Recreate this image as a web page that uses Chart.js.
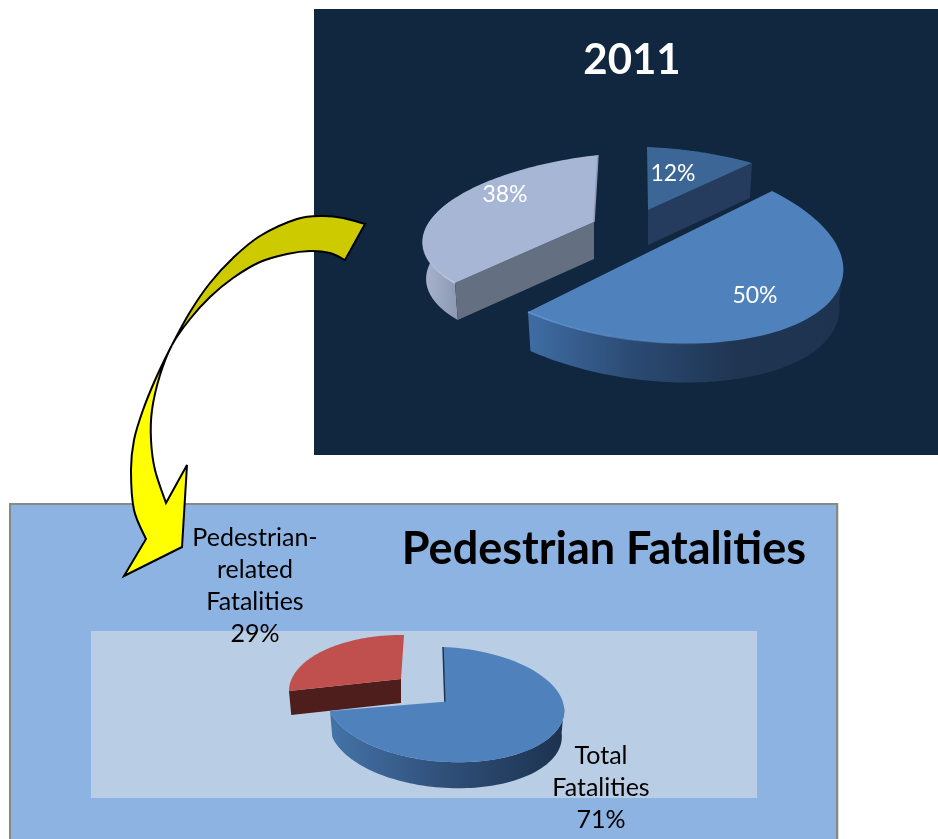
<!DOCTYPE html>
<html><head><meta charset="utf-8">
<script src="https://cdn.jsdelivr.net/npm/chart.js@4"></script>
<style>
html,body{margin:0;padding:0;background:#fff;width:938px;height:839px;overflow:hidden}
.abs{position:absolute;display:block}
#dark{left:314px;top:9px;width:624px;height:446px;background:#11263f}
#panel{left:9px;top:503px;width:829px;height:340px;background:#8db3e2;border:2px solid #888;box-sizing:border-box;box-shadow:1px 0 0 #ddd}
#plot{left:91px;top:631px;width:666px;height:167px;background:#b9cde5}
svg{left:0;top:0;pointer-events:none}
</style></head><body>
<div id="dark" class="abs"></div><div id="panel" class="abs"></div><div id="plot" class="abs"></div>
<canvas id="c1" class="abs" style="left:326px;top:9px" width="612" height="446"></canvas>
<canvas id="c2" class="abs" style="left:10px;top:503px" width="796" height="336"></canvas>
<svg id="arrow" class="abs" width="938" height="839"></svg>
<script>
// ---- data ----
const topTitle = '2011';
const topCategories = ['Share A', 'Share B', 'Share C'];
const topValues = [12, 50, 38];
const bottomTitle = 'Pedestrian Fatalities';
const bottomCategories = ['Total Fatalities', 'Pedestrian-related Fatalities'];
const bottomValues = [71, 29];
const bottomLabelLines = [['Total', 'Fatalities'], ['Pedestrian-', 'related', 'Fatalities']];

const FONT = 'Lato, Carlito, sans-serif';

// ---- look of each slice (page coordinates of the flattened, exploded pie) ----
const topLook = {
  offset: [326, 9], labelFont: '23px ' + FONT, labelColor: '#fff', lineStep: 32,
  slices: [
    { top: '#3b6696', depth: 35, anchors: [[null,648,210],[0,647,147],[0.5,700,152],[1,752,163]],
      cut: { end: true, color: '#253c5e' }, label: [673, 174] },
    { top: '#4f81bd', depth: 39, anchors: [[0,772,191],[0.26,843,264],[0.76,667,343],[1,528,312]],
      wall: { from: 0.26, to: 1, stops: ['#1e3350', '#1f3552', '#2b4a72', '#3f6da4'] },
      edge: { from: 0.66, to: 1, color: '#6394d2', fade: 'start' }, label: [755, 296] },
    { top: '#a7b6d4', depth: 37, anchors: [[null,594,222],[0,455,283],[0.342,425,230],[1,598,155]],
      cut: { start: true, color: '#646f82' },
      wall: { from: 0, to: 0.55, stops: ['#8f9bb4', '#a9b5ce'] },
      cutLine: { t: 1, color: '#8f9bb4' },
      edge: { from: 0, to: 0.42, color: '#bdc9e1', fade: 'end' }, label: [505, 195] }
  ], order: [2, 0, 1]
};
const bottomLook = {
  offset: [10, 503], labelFont: '25px ' + FONT, labelColor: '#000', lineStep: 32,
  slices: [
    { top: '#4f81bd', depth: 26, anchors: [[0,443,647],[0.352,564,707],[0.704,447,762],[1,330,711]],
      wall: { from: 0.352, to: 1, stops: ['#1c324e', '#2f4f78', '#4473a8'] },
      cutLine: { t: 0, color: '#1e3450' }, label: [601, 756] },
    { top: '#c0504d', depth: 24, anchors: [[null,401,679],[0,289,691],[0.5,327,649],[1,404,635]],
      cut: { start: true, color: '#4e1e1c' }, label: [255, 538] }
  ], order: [1, 0]
};
bottomLook.lines = bottomLabelLines;

// ---- projective map of the unit circle onto a slice ----
function solve(A, b) {
  const n = b.length, M = A.map((r, i) => [...r, b[i]]);
  for (let i = 0; i < n; i++) {
    let p = i;
    for (let r = i + 1; r < n; r++) if (Math.abs(M[r][i]) > Math.abs(M[p][i])) p = r;
    [M[i], M[p]] = [M[p], M[i]];
    for (let r = 0; r < n; r++) if (r !== i) {
      const f = M[r][i] / M[i][i];
      for (let c = i; c <= n; c++) M[r][c] -= f * M[i][c];
    }
  }
  return M.map((r, i) => r[n] / r[i]);
}
function projector(arc, anchors) {
  const a0 = arc.startAngle, a1 = arc.endAngle, A = [], b = [];
  anchors.forEach(([t, x, y]) => {
    let u = 0, v = 0;
    if (t !== null) { const a = a0 + (a1 - a0) * t; u = Math.cos(a); v = Math.sin(a); }
    A.push([u, v, 1, 0, 0, 0, -u * x, -v * x]); b.push(x);
    A.push([0, 0, 0, u, v, 1, -u * y, -v * y]); b.push(y);
  });
  const h = solve(A, b);
  return (u, v) => {
    const d = h[6] * u + h[7] * v + 1;
    return [(h[0] * u + h[1] * v + h[2]) / d, (h[3] * u + h[4] * v + h[5]) / d];
  };
}
const pie3d = {
  id: 'pie3d',
  beforeDatasetsDraw(chart, _a, look) {
    const ctx = chart.ctx, arcs = chart.getDatasetMeta(0).data;
    ctx.save();
    ctx.translate(-look.offset[0], -look.offset[1]);
    look.order.forEach(i => {
      const s = look.slices[i], arc = arcs[i].getProps(['startAngle', 'endAngle'], true);
      const map = projector(arc, s.anchors);
      const at = t => { const a = arc.startAngle + (arc.endAngle - arc.startAngle) * t; return map(Math.cos(a), Math.sin(a)); };
      const mid = map(0, 0)[0];
      const low = p => [p[0] - 0.02 * (p[0] - mid), p[1] + s.depth];
      const run = (from, to) => { const o = []; for (let k = 0; k <= 80; k++) o.push(at(from + (to - from) * k / 80)); return o; };
      const poly = (pts, fill) => {
        ctx.beginPath(); pts.forEach((p, k) => k ? ctx.lineTo(p[0], p[1]) : ctx.moveTo(p[0], p[1])); ctx.closePath();
        ctx.fillStyle = fill; ctx.fill();
      };
      if (s.wall) {
        const pts = run(s.wall.from, s.wall.to), xs = pts.map(p => p[0]);
        const g = ctx.createLinearGradient(Math.max(...xs), 0, Math.min(...xs), 0);
        s.wall.stops.forEach((c, k) => g.addColorStop(k / (s.wall.stops.length - 1), c));
        poly([...pts, ...pts.slice().reverse().map(low)], g);
      }
      const c = map(0, 0);
      if (s.cut) {
        const e = at(s.cut.start ? 0 : 1);
        poly([c, e, low(e), low(c)], s.cut.color);
      }
      poly([c, ...run(0, 1)], s.top);
      if (s.cutLine) {
        const e = at(s.cutLine.t); ctx.strokeStyle = s.cutLine.color; ctx.lineWidth = 1.5;
        ctx.beginPath(); ctx.moveTo(c[0], c[1]); ctx.lineTo(e[0], e[1]); ctx.stroke();
      }
      if (s.edge) {
        const pts = run(s.edge.from, s.edge.to), a = pts[0], z = pts[pts.length - 1];
        const g = ctx.createLinearGradient(a[0], a[1], z[0], z[1]);
        g.addColorStop(0, s.edge.fade === 'start' ? s.edge.color + '00' : s.edge.color);
        g.addColorStop(1, s.edge.fade === 'end' ? s.edge.color + '00' : s.edge.color);
        ctx.strokeStyle = g; ctx.lineWidth = 1.5; ctx.beginPath();
        pts.forEach((p, k) => k ? ctx.lineTo(p[0], p[1]) : ctx.moveTo(p[0], p[1]));
        ctx.stroke();
      }
    });
    ctx.restore();
    return false;
  },
  afterDraw(chart, _a, look) {
    const ctx = chart.ctx, ds = chart.data.datasets[0];
    ctx.save();
    ctx.translate(-look.offset[0], -look.offset[1]);
    ctx.font = look.labelFont; ctx.fillStyle = look.labelColor;
    ctx.textAlign = 'center'; ctx.textBaseline = 'middle';
    ds.data.forEach((v, i) => {
      const lines = [...((look.lines || [])[i] || []), v + '%'], [x, y] = look.slices[i].label;
      lines.forEach((t, k) => ctx.fillText(t, x, y + k * look.lineStep));
    });
    ctx.restore();
  }
};

function makePie(id, labels, data, title, font, pad, align, look) {
  new Chart(document.getElementById(id), {
    type: 'pie',
    data: { labels, datasets: [{ data, borderWidth: 0, backgroundColor: look.slices.map(s => s.top) }] },
    options: {
      responsive: false, animation: false, events: [],
      plugins: {
        legend: { display: false }, tooltip: { enabled: false },
        title: { display: true, text: title, align, color: look.labelColor,
                 font: { family: FONT, weight: 'bold', size: font }, padding: { top: pad, bottom: 0 } },
        pie3d: look
      }
    },
    plugins: [pie3d]
  });
}
makePie('c1', topCategories, topValues, topTitle, 42, 26, 'center', topLook);
makePie('c2', bottomCategories, bottomValues, bottomTitle, 45, 19, 'end', bottomLook);

// ---- callout arrow (decoration) ----
function smooth(p, from, to) {
  let d = '';
  const step = to > from ? 1 : -1, n = p.length - 1, cl = i => Math.min(n, Math.max(0, i));
  for (let i = from; i !== to; i += step) {
    const a = p[cl(i - step)], b = p[i], c = p[i + step], e = p[cl(i + 2 * step)];
    d += `C${b[0] + (c[0] - a[0]) / 6} ${b[1] + (c[1] - a[1]) / 6} ${c[0] - (e[0] - b[0]) / 6} ${c[1] - (e[1] - b[1]) / 6} ${c[0]} ${c[1]}`;
  }
  return d;
}
const outer = [[365,224],[343,218],[323,216],[297,219],[260,236],[233,258],[210,283],[190,312],[172,345],[156,378],[143,410],[134,440],[131,470],[134,510],[146,539]];
const inner = [[345,260],[330,253],[310,251],[287,254],[260,262],[233,278],[210,297],[190,319],[172,345],[160,375],[152,410],[151,440],[155,470],[166,503]];
const svg = document.getElementById('arrow');
svg.innerHTML =
  `<path d="M365 224${smooth(outer, 0, 8)}${smooth(inner, 8, 0)}Z" fill="#cdcb00" stroke="#000" stroke-width="2"/>` +
  `<path d="M172 345${smooth(outer, 8, 14)}L124 576L182 547L187 465L166 503${smooth(inner, 13, 8)}Z" fill="#ffff00" stroke="#000" stroke-width="2"/>`;
</script>
</body></html>
